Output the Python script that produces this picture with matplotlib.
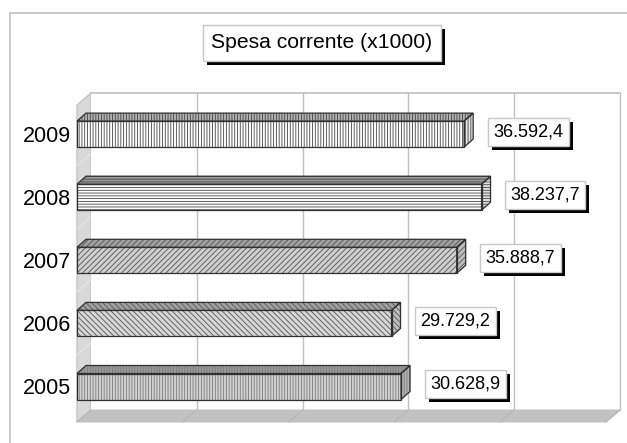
import matplotlib
matplotlib.use('Agg')
import matplotlib.pyplot as plt
import matplotlib.patheffects as pe
from matplotlib.patches import Polygon, Rectangle
from matplotlib.transforms import offset_copy

plt.rcParams['font.family'] = ['Liberation Sans', 'DejaVu Sans']
plt.rcParams['hatch.linewidth'] = 0.6

# ---------------- data ----------------
years = ['2005', '2006', '2007', '2008', '2009']
values = [30628.9, 29729.2, 35888.7, 38237.7, 36592.4]
title = 'Spesa corrente (x1000)'
x_max = 50000
grid_step = 10000


def it_fmt(v):
    s = f"{v:,.1f}"
    return s.replace(',', 'X').replace('.', ',').replace('X', '.')


# ---------------- styles ----------------
face_cols = ['#d2d2d2', '#d6d6d6', '#cfcfcf', 'white', 'white']
hatches = ['||||||', '\\\\\\\\\\\\', '//////', '------', '||||||']
hatch_cols = ['#7a7a7a', '#555555', '#555555', '#444444', '#444444']
top_cols = ['#9a9a9a', '#a0a0a0', '#a0a0a0', '#9a9a9a', '#b0b0b0']
side_cols = ['#b5b5b5', '#bcbcbc', '#bcbcbc', '#e0e0e0', '#e6e6e6']

W, H = 627, 443
fig = plt.figure(figsize=(W / 100, H / 100), dpi=100)
fig.patch.set_facecolor('white')

ax_l, ax_r, ax_t, ax_b = 76, 620, 93, 422
ax = fig.add_axes([ax_l / W, 1 - ax_b / H, (ax_r - ax_l) / W, (ax_b - ax_t) / H])

PXX = x_max / 529.0        # value units per pixel
CAT = 63.1                 # pixels per category
x0_px = 77
y0_px = 386.5
ax.set_xlim(-(x0_px - ax_l) * PXX, (ax_r - x0_px) * PXX)
yf = (y0_px - ax_b) / CAT
ytop = (y0_px - ax_t) / CAT
ax.set_ylim(yf, ytop)
DX = 14 * PXX
DY = 12 / CAT

wall_line = '#c0c0c0'
# side wall
ax.add_patch(Polygon([(0, yf), (0, ytop - DY), (DX, ytop), (DX, yf + DY)],
                     closed=True, fc='#d9d9d9', ec='#c4c4c4', lw=1, clip_on=False, zorder=0))
# back wall
ax.add_patch(Rectangle((DX, yf + DY), x_max, ytop - yf - DY, fc='white', ec='none', zorder=0))
# floor
ax.add_patch(Polygon([(0, yf), (x_max, yf), (x_max + DX, yf + DY), (DX, yf + DY)],
                     closed=True, fc='#c2c2c2', ec='#c2c2c2', lw=0.8, clip_on=False, zorder=0.5))
# gridlines on back wall
for k in range(1, x_max // grid_step + 1):
    xv = k * grid_step + DX
    ax.plot([xv, xv], [yf + DY, ytop], color=wall_line, lw=1, zorder=0.6, clip_on=False)
ax.plot([DX, x_max + DX], [ytop, ytop], color=wall_line, lw=1.2, zorder=0.6, clip_on=False)
# floor diagonals
for k in range(0, x_max // grid_step + 1):
    xv = k * grid_step
    ax.plot([xv, xv + DX], [yf, yf + DY], color='#b4b4b4', lw=0.7, zorder=0.55, clip_on=False)
# side wall category separators
for i in range(len(years) - 1):
    b = i + 0.5
    ax.plot([0, DX], [b, b + DY], color='#e8e8e8', lw=0.8, zorder=0.55, clip_on=False)

# ---------------- bars ----------------
h = 26 / CAT
bdx = 9 * PXX
bdy = 8 / CAT
ypos = list(range(len(years)))
edge = '#303030'
shadow = [pe.SimplePatchShadow(offset=(2.9, -2.9), shadow_rgbFace='black', alpha=1.0),
          pe.Normal()]

for i, v in enumerate(values):
    ax.barh([ypos[i]], [v], height=h, left=0, color=face_cols[i], hatch=hatches[i],
            edgecolor=hatch_cols[i], linewidth=0, zorder=2)
    ax.barh([ypos[i]], [v], height=h, left=0, fill=False, edgecolor=edge, linewidth=0.9, zorder=3)
    y_lo = ypos[i] - h / 2
    y_hi = ypos[i] + h / 2
    top = [(0, y_hi), (v, y_hi), (v + bdx, y_hi + bdy), (bdx, y_hi + bdy)]
    side = [(v, y_lo), (v + bdx, y_lo + bdy), (v + bdx, y_hi + bdy), (v, y_hi)]
    for pts, fc in ((top, top_cols[i]), (side, side_cols[i])):
        ax.add_patch(Polygon(pts, closed=True, fc=fc, ec=hatch_cols[i], hatch=hatches[i],
                             lw=0, zorder=2))
        ax.add_patch(Polygon(pts, closed=True, fill=False, ec=edge, lw=0.9, zorder=3))

    lab = it_fmt(v)
    tr = offset_copy(ax.transData, fig=fig, x=20, y=2.5, units='dots')
    t = ax.text(v + bdx, ypos[i], lab, transform=tr, ha='left', va='center', fontsize=13,
                color='black', zorder=5,
                bbox=dict(boxstyle='square,pad=0.3', fc='white', ec='#c8c8c8', lw=1))
    t.get_bbox_patch().set_path_effects(shadow)

ax.set_frame_on(False)
ax.set_xticks([])
ax.set_yticks(ypos, years, fontsize=15.5)
ax.tick_params(axis='y', length=0, pad=3.6)

# ---------------- title ----------------
tx, ty = 322 / W, 1 - 43 / H
tt = fig.text(tx, ty, title, ha='center', va='center', fontsize=15.2, color='black',
              bbox=dict(boxstyle='square,pad=0.4', fc='white', ec='#c8c8c8', lw=1), zorder=5)
tt.get_bbox_patch().set_path_effects(shadow)

# outer frame
fig.add_artist(Rectangle((9.5 / W, -0.05), 1.1, 1 - 12.5 / H + 0.05, transform=fig.transFigure,
                         fill=False, ec='#c0c0c0', lw=1.2))

fig.savefig('out.png', dpi=100, facecolor='white')
